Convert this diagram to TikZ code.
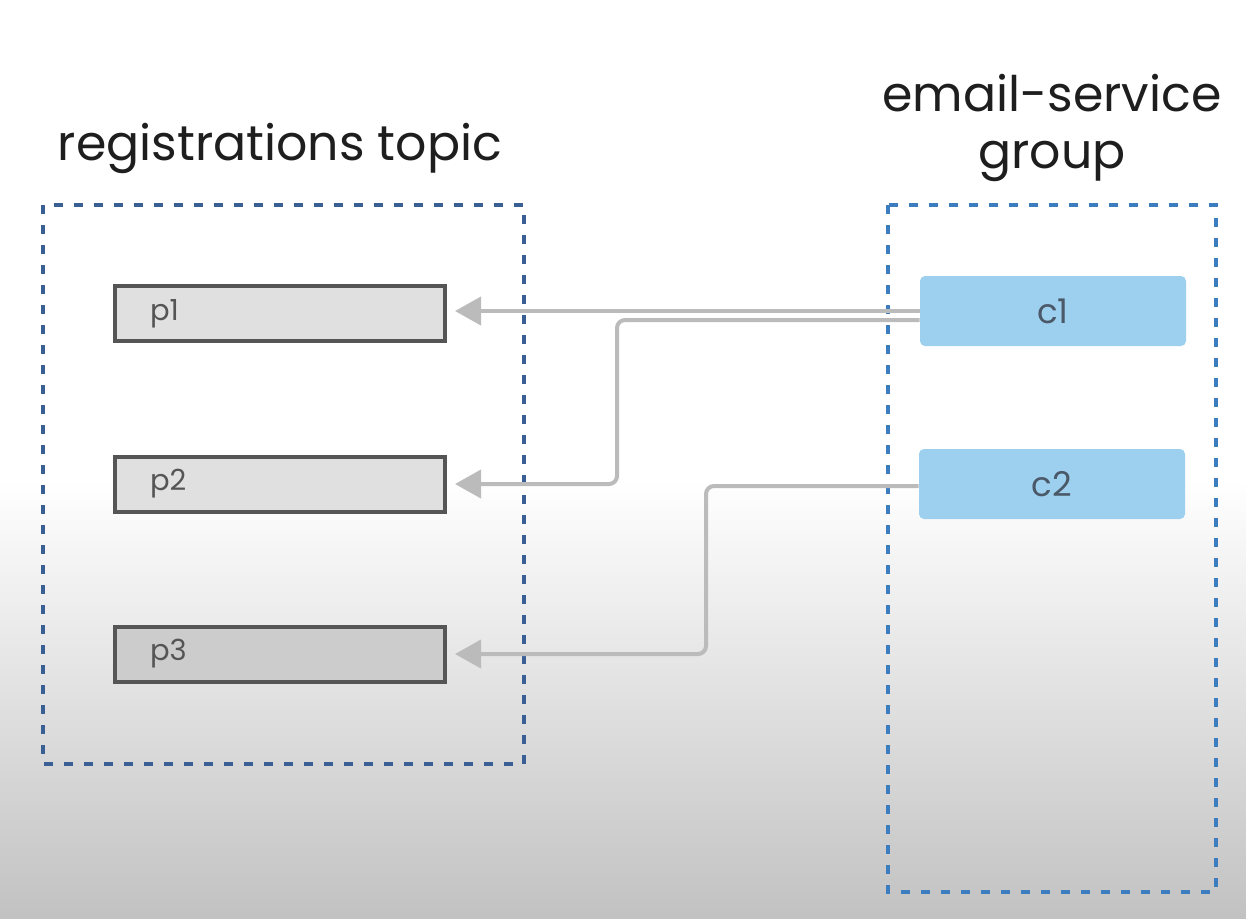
\documentclass[tikz,border=0pt]{standalone}
\usepackage{fontspec}
\setmainfont{Poppins}
\usetikzlibrary{arrows.meta}
\definecolor{topicblue}{HTML}{3A5F95}
\definecolor{groupblue}{HTML}{3C7DBF}
\definecolor{consumerfill}{HTML}{9DCFEE}
\definecolor{partfill}{HTML}{E0E0E0}
\definecolor{partedge}{HTML}{555555}
\definecolor{linkgray}{HTML}{BBBBBB}
\definecolor{titleink}{HTML}{1E1E1E}
\definecolor{labelink}{HTML}{555555}
\definecolor{consumerink}{HTML}{4A5868}
\tikzset{
  frame/.style={line width=1.8pt, dash pattern=on 4.5pt off 5.5pt},
  partbox/.style={draw=partedge, fill=partfill, line width=2pt,
    minimum width=165pt, minimum height=27.5pt, text width=130pt,
    inner xsep=17.5pt, align=left, font=\fontsize{14.5}{16}\selectfont,
    text=labelink},
  consumer/.style={fill=consumerfill, rounded corners=2.5pt,
    minimum width=133pt, minimum height=35pt, inner sep=0pt,
    font=\fontsize{17}{19}\selectfont, text=consumerink},
  title/.style={font=\fontsize{24.5}{28.5}\selectfont, text=titleink, align=center},
  link/.style={draw=linkgray, line width=2pt, rounded corners=4pt,
    -{Triangle[length=13pt,width=14pt]}, shorten >=4pt},
}
\begin{document}
\begin{tikzpicture}[x=0.5pt,y=-0.5pt]
  % page background: white above, soft grey fade towards the bottom
  \fill[white] (0,0) rectangle (1246,480);
  \shade[top color=white, bottom color=black!24] (0,480) rectangle (1246,918);
  \useasboundingbox (0,0) rectangle (1246,918);

  % titles
  \node[title] (ttopic) at (280,148) {registrations topic};
  \node[title] (tgroup) at (1052,128) {email-service\\group};

  % topic and consumer group frames
  \draw[frame, draw=topicblue] (43,205) rectangle (524,764);
  \draw[frame, draw=groupblue] (888,205) rectangle (1216,892);

  % partitions
  \node[partbox] (p1) at (280,313.5) {p1};
  \node[partbox] (p2) at (280,484) {p2};
  \node[partbox, fill=black!20] (p3) at (280,654) {p3};

  % consumers
  \node[consumer] (c1) at (1053,311) {c1};
  \node[consumer] (c2) at (1052,484) {c2};

  % partition assignments
  \coordinate (k2) at (617,484);
  \coordinate (k3) at (706,654);
  \draw[link] (c1.west) -- (c1.west -| p1.east);
  \draw[link] ([yshift=-4.5pt]c1.west) -| (k2) -- (k2 -| p2.east);
  \draw[link] ([yshift=-1pt]c2.west) -| (k3) -- (k3 -| p3.east);
\end{tikzpicture}
\end{document}
